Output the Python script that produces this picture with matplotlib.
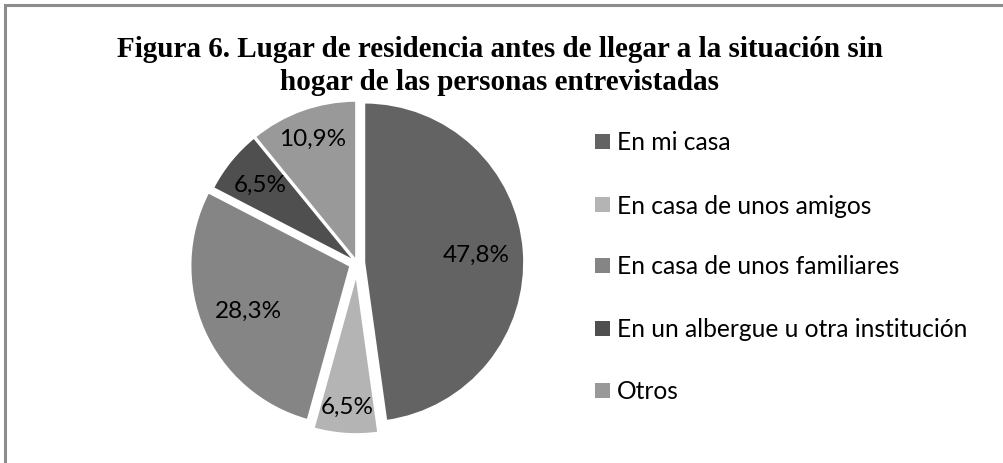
import matplotlib
matplotlib.use("Agg")
import matplotlib.pyplot as plt
from matplotlib.patches import Rectangle
import numpy as np

categories = ["En mi casa", "En casa de unos amigos", "En casa de unos familiares",
              "En un albergue u otra institución", "Otros"]
values = [47.8, 6.5, 28.3, 6.5, 10.9]
colors = ["#636363", "#b4b4b4", "#858585", "#4f4f4f", "#999999"]
explode = [0.045, 0.07, 0.045, 0.015, 0.015]
title_lines = ["Figura 6. Lugar de residencia antes de llegar a la situación sin",
               "hogar de las personas entrevistadas"]

W, H = 1004, 464
fig = plt.figure(figsize=(W / 100, H / 100), dpi=100)
fig.patch.set_facecolor("white")

# border
fig.add_artist(Rectangle((5 / W, -0.1), 1.2, (H - 6) / H + 0.1, transform=fig.transFigure,
                         fill=False, edgecolor="#8c8c8c", linewidth=2.2))

cx, cy, r = 357, 264, 160
half = r * 1.25
ax = fig.add_axes([(cx - half) / W, (H - cy - half) / H, 2 * half / W, 2 * half / H])
wedges, texts, autotexts = ax.pie(
    values, colors=colors, explode=explode, startangle=90, counterclock=False,
    autopct=lambda p: f"{p:.1f}%".replace(".", ","), pctdistance=0.76,
    wedgeprops=dict(edgecolor="white", linewidth=1.5),
    textprops=dict(fontsize=17.5, family="Lato", color="black"))
ax.set_xlim(-1.25, 1.25)
ax.set_ylim(-1.25, 1.25)
ax.set_aspect("equal")
ax.axis("off")
# per-slice label distance (from pie centre, in radii)
pdist = [0.75, 0.90, 0.74, 0.78, 0.83]
for w, t, d in zip(wedges, autotexts, pdist):
    ang = np.deg2rad((w.theta1 + w.theta2) / 2)
    t.set_position((d * np.cos(ang), d * np.sin(ang)))

for line, yb in zip(title_lines, [57, 90]):
    fig.text(500 / W, 1 - yb / H, line, ha="center", va="baseline", fontsize=21,
             family="Liberation Serif", fontweight="bold")

# legend
leg_y = [143, 206, 267, 330, 392]
for lab, col, y in zip(categories, colors, leg_y):
    fig.add_artist(Rectangle((595 / W, 1 - (y + 7) / H), 15 / W, 15 / H,
                             transform=fig.transFigure, facecolor=col, edgecolor="none"))
    fig.text(617 / W, 1 - y / H, lab, ha="left", va="center", fontsize=17.7, family="Lato")

fig.savefig("out.png", dpi=100)
